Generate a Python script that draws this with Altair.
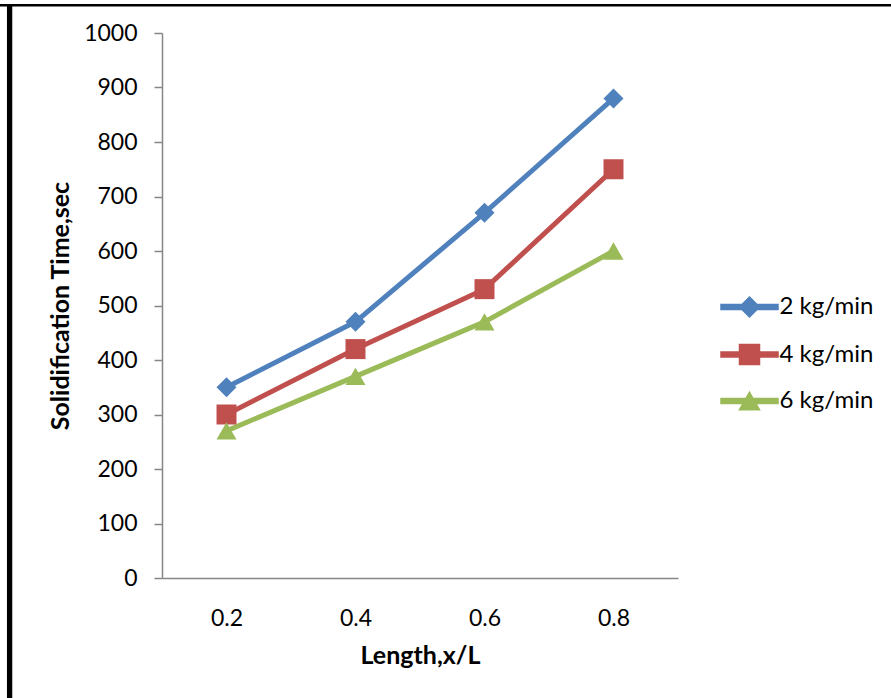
import altair as alt
import pandas as pd

# ---- data ----
x_labels = ["0.2", "0.4", "0.6", "0.8"]
series_names = ["2 kg/min", "4 kg/min", "6 kg/min"]
s2 = [350, 470, 670, 880]
s4 = [300, 420, 530, 750]
s6 = [270, 370, 470, 600]
colors = ["#4F81BD", "#C0504D", "#9BBB59"]
shapes = ["diamond", "square", "triangle-up"]

rows = []
for name, vals in zip(series_names, [s2, s4, s6]):
    for xl, v in zip(x_labels, vals):
        rows.append({"x": xl, "y": v, "series": name})
df = pd.DataFrame(rows)

FONT = "Lato"
PW, PH = 516, 545
PAD_L, PAD_T = 162, 33
TOTAL_W, TOTAL_H = 891, 698

bar = "M-2.85,-0.26 L2.85,-0.26 L2.85,0.26 L-2.85,0.26 Z "
leg_paths = [
    bar + "M0,-1 L1,0 L0,1 L-1,0 Z",
    bar + "M-1,-1 L1,-1 L1,1 L-1,1 Z",
    bar + "M0,-0.866 L1,0.866 L-1,0.866 Z",
]

xenc = alt.X(
    "x:O",
    sort=x_labels,
    scale=alt.Scale(type="point", padding=0.5),
    axis=alt.Axis(
        title="Length,x/L",
        labelAngle=0,
        ticks=False,
        tickSize=0,
        labelPadding=29,
        labelFont=FONT,
        labelFontSize=23,
        labelColor="#000000",
        titleFont=FONT,
        titleFontSize=25,
        titleFontWeight="bold",
        titleColor="#000000",
        titlePadding=13,
        domainColor="#868686",
        domainWidth=1.5,
        grid=False,
    ),
)
yenc = alt.Y(
    "y:Q",
    scale=alt.Scale(domain=[0, 1000], nice=False, zero=True),
    axis=alt.Axis(
        title="Solidification Time,sec",
        values=list(range(0, 1001, 100)),
        format="d",
        tickSize=8,
        tickColor="#868686",
        tickWidth=1.5,
        labelPadding=17,
        labelFont=FONT,
        labelFontSize=23,
        labelColor="#000000",
        titleFont=FONT,
        titleFontSize=25,
        titleFontWeight="bold",
        titleColor="#000000",
        titlePadding=10,
        domainColor="#868686",
        domainWidth=1.5,
        grid=False,
    ),
)
color_scale = alt.Scale(domain=series_names, range=colors)

legend_spec = dict(
    title=None,
    orient="none",
    legendX=575.5,
    legendY=262,
    padding=0,
    symbolSize=400,
    labelFont=FONT,
    labelFontSize=24,
    labelColor="#000000",
    labelOffset=18,
    rowPadding=21.5,
)

# invisible layer (drawn first) that only provides the legend: line + marker symbols
legend_layer = (
    alt.Chart(df)
    .mark_point(filled=True, opacity=1)
    .encode(
        x=xenc,
        y=yenc,
        size=alt.value(0),
        color=alt.Color("series:N", scale=color_scale, legend=alt.Legend(**legend_spec)),
        shape=alt.Shape(
            "series:N",
            scale=alt.Scale(domain=series_names, range=leg_paths),
            legend=alt.Legend(**legend_spec),
        ),
    )
)

lines = alt.Chart(df).mark_line(strokeWidth=5, strokeCap="round", strokeJoin="round").encode(
    x=xenc,
    y=yenc,
    color=alt.Color("series:N", scale=color_scale),
    detail="series:N",
)

point_layers = []
for name, shp in zip(series_names, shapes):
    point_layers.append(
        alt.Chart(df)
        .transform_filter(alt.datum.series == name)
        .mark_point(filled=True, size=400, opacity=1, shape=shp)
        .encode(
            x=xenc,
            y=yenc,
            color=alt.Color("series:N", scale=color_scale),
        )
    )

frame_data = alt.Data(values=[{"k": 1}])
top_border = alt.Chart(frame_data).mark_rule(color="#000000", strokeWidth=2.6).encode(
    x=alt.value(-PAD_L), x2=alt.value(TOTAL_W - PAD_L), y=alt.value(5.3 - PAD_T)
)
left_border = alt.Chart(frame_data).mark_rule(color="#000000", strokeWidth=5.3).encode(
    x=alt.value(9.6 - PAD_L), y=alt.value(-PAD_T + 4), y2=alt.value(TOTAL_H - PAD_T)
)

chart = (
    alt.layer(legend_layer, lines, *point_layers, top_border, left_border)
    .properties(
        width=PW,
        height=PH,
        autosize=alt.AutoSizeParams(type="none"),
        padding={"left": PAD_L, "top": PAD_T, "right": TOTAL_W - PAD_L - PW, "bottom": TOTAL_H - PAD_T - PH},
        background="#FFFFFF",
    )
    .configure_view(strokeWidth=0)
)

chart.save("out.html", embed_options={"renderer": "svg", "actions": False})
